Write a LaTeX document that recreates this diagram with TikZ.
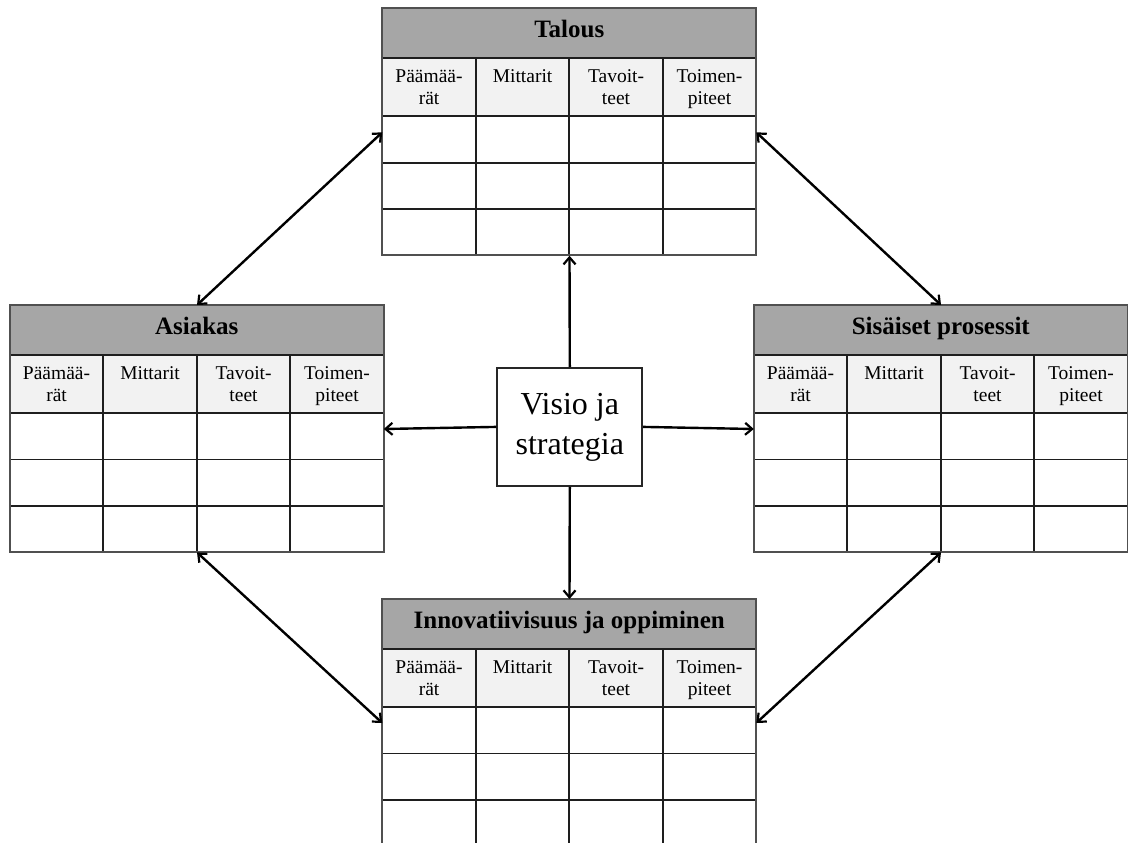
\documentclass[tikz,border=0pt]{standalone}
\usepackage{fontspec}
\setmainfont{Liberation Serif}
\usetikzlibrary{arrows.meta}

\definecolor{titlefill}{HTML}{A6A6A6}
\definecolor{headfill}{HTML}{F2F2F2}
\definecolor{framegray}{HTML}{505050}
\definecolor{gridgray}{HTML}{1E1E1E}

\tikzset{
  frame/.style={draw=framegray, line width=2.2pt},
  gridline/.style={draw=gridgray, line width=1.8pt},
  titletext/.style={font=\fontsize{25}{29}\selectfont\bfseries, inner sep=0pt, anchor=base},
  headtext/.style={font=\fontsize{19.5}{22}\selectfont, align=center, inner sep=0pt, anchor=north},
  centerbox/.style={draw=black!85, line width=1.8pt, fill=white, minimum width=145pt,
    minimum height=118pt, inner sep=0pt, align=center, font=\fontsize{32}{40}\selectfont},
  barb/.tip={Straight Barb[length=7pt,width=12pt,line width=2.2pt]},
  link/.style={line width=2.4pt, -barb},
  biglink/.style={line width=2.4pt, barb-barb}
}

% One scorecard sheet: #1 name, #2 left x, #3 top y, #4 heading
\newcommand\bscsheet[4]{%
  \begin{scope}[shift={(#2,#3)}]
    \fill[titlefill] (0,0) rectangle (374,50);
    \fill[headfill] (0,50) rectangle (374,107.7);
    \fill[white] (0,107.7) rectangle (374,247);
    \foreach \r in {50,107.7,154.4,200.7} \draw[gridline] (0,\r) -- (374,\r);
    \foreach \c in {93.5,187,280.5} \draw[gridline] (\c,50) -- (\c,247);
    \draw[frame] (0,0) rectangle (374,247);
    \node[titletext] (#1-title) at (187,29.5) {#4};
    \node[headtext] (#1-h1) at (46.75,58.9) {\strut Päämää-\\rät};
    \node[headtext] (#1-h2) at (140.25,58.9) {\strut Mittarit};
    \node[headtext] (#1-h3) at (233.75,58.9) {\strut Tavoit-\\teet};
    \node[headtext] (#1-h4) at (327.25,58.9) {\strut Toimen-\\piteet};
    \node[inner sep=0pt, minimum width=374pt, minimum height=247pt, anchor=north west] (#1) at (0,0) {};
    \coordinate (#1-l) at (0,124);
    \coordinate (#1-r) at (374,124);
  \end{scope}}

\begin{document}
\begin{tikzpicture}[x=1pt, y=-1pt]
  \useasboundingbox (0,0) rectangle (1128,843);

  \bscsheet{tal}{382.3}{8.3}{Talous}
  \bscsheet{asi}{9.8}{305}{Asiakas}
  \bscsheet{sis}{753.8}{305}{Sisäiset prosessit}
  \bscsheet{inn}{382.3}{599}{Innovatiivisuus ja oppiminen}

  \node[centerbox] (vis) at (569.8,426.9) {Visio ja\\strategia};

  % vision and strategy feeds every perspective
  \draw[link] (vis.north) -- (tal.south);
  \draw[link] (vis.south) -- (inn.north);
  \draw[link] (vis.west) -- (asi-r);
  \draw[link] (vis.east) -- (sis-l);

  % links between neighbouring perspectives
  \draw[biglink] (tal-l) -- (asi.north);
  \draw[biglink] (tal-r) -- (sis.north);
  \draw[biglink] (asi.south) -- (inn-l);
  \draw[biglink] (sis.south) -- (inn-r);
\end{tikzpicture}
\end{document}
